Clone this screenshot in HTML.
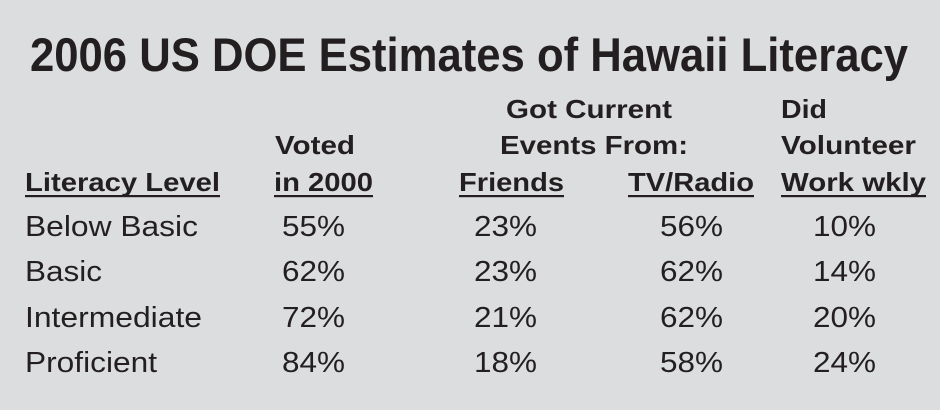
<!DOCTYPE html>
<html><head><meta charset="utf-8"><style>
html,body{margin:0;padding:0;background:#dcdddf;}
svg{display:block;}
text{font-family:"Liberation Sans",Arial,sans-serif;fill:#231f20;}
.h{font-weight:bold;font-size:26px;}
.d{font-size:29px;}
</style></head><body>
<svg id="tbl" width="940" height="410" viewBox="0 0 940 410">
<rect width="940" height="410" fill="#dcdddf"/>
<text x="30" y="71" font-size="47" font-weight="bold" textLength="878" lengthAdjust="spacingAndGlyphs">2006 US DOE Estimates of Hawaii Literacy</text>
<text class="h" x="506" y="118" textLength="166" lengthAdjust="spacingAndGlyphs">Got Current</text>
<text class="h" x="500" y="154" textLength="188" lengthAdjust="spacingAndGlyphs">Events From:</text>
<text class="h" x="781" y="118" textLength="46" lengthAdjust="spacingAndGlyphs">Did</text>
<text class="h" x="781" y="154" textLength="135" lengthAdjust="spacingAndGlyphs">Volunteer</text>
<text class="h" x="275" y="154" textLength="80" lengthAdjust="spacingAndGlyphs">Voted</text>
</svg>
<script>
const columns = ["Literacy Level","in 2000","Friends","TV/Radio","Work wkly"];
const levels = ["Below Basic","Basic","Intermediate","Proficient"];
const voted = [55,62,72,84];
const friends = [23,23,21,18];
const tvRadio = [56,62,62,58];
const volunteer = [10,14,20,24];
const svg = document.getElementById('tbl');
const NS = 'http://www.w3.org/2000/svg';
const colX = [25,274,459,628,781];
const colW = [195,99,105,126,145];
const valRight = [345,537,723,876];
const rowY = [236,281,327,372];
const labelW = [173,77,177,132];
function txt(x,y,s,cls,anchor,len){
  const t=document.createElementNS(NS,'text');
  t.setAttribute('x',x);t.setAttribute('y',y);t.setAttribute('class',cls);
  if(anchor)t.setAttribute('text-anchor',anchor);
  if(len){t.setAttribute('textLength',len);t.setAttribute('lengthAdjust','spacingAndGlyphs');}
  t.textContent=s;svg.appendChild(t);return t;
}
columns.forEach((c,i)=>{
  const t=txt(colX[i],191,c,'h',null,colW[i]);
  
  
  const l=document.createElementNS(NS,'rect');
  l.setAttribute('x',colX[i]);l.setAttribute('y',195);l.setAttribute('width',colW[i]);l.setAttribute('height',2.2);l.setAttribute('fill','#231f20');
  
  
  svg.appendChild(l);
});
const series=[voted,friends,tvRadio,volunteer];
levels.forEach((lv,r)=>{
  const t=txt(25,rowY[r],lv,'d',null,labelW[r]);
  
  
  series.forEach((s,c)=>{
    const v=txt(valRight[c],rowY[r],s[r]+'%','d','end',63);
    
    
  });
});
</script>
</body></html>
